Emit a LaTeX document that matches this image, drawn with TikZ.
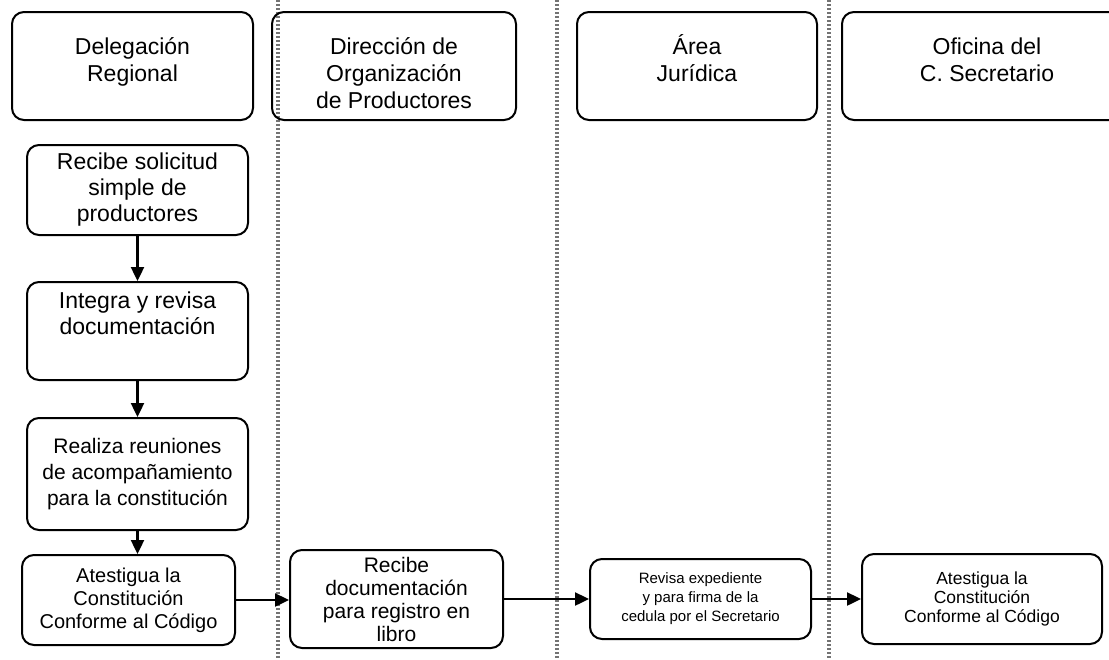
\documentclass[tikz,border=0pt]{standalone}
\usepackage{fontspec}
\setmainfont{Liberation Sans}
\usetikzlibrary{arrows.meta}
\begin{document}
\begin{tikzpicture}[x=1pt,y=-1pt,
        head/.style={draw,line width=2pt,rounded corners=12pt,align=center,
            minimum height=108pt,inner sep=0pt,font=\fontsize{23}{27}\selectfont},
        proc/.style={draw,line width=2pt,rounded corners=12pt,align=center,inner sep=0pt},
        flow/.style={line width=2.4pt,-{Triangle[length=14pt,width=13pt]}},
        lane/.style={line width=3.5pt,black!55,dash pattern=on 2pt off 2pt}]
        \clip (0,0) rectangle (1109,659);
        \fill[white] (0,0) rectangle (1109,659);

        % separadores
        \foreach \x in {278,557,829}
            \draw[lane] (\x,0) -- (\x,659);

        % encabezados
        \node[head,minimum width=241pt] (h1) at (132.5,66) {\rule{0pt}{31pt}Delegación\\Regional\\ \mbox{}};
        \node[head,minimum width=244pt] (h2) at (394,66) {\rule{0pt}{31pt}Dirección de\\Organización\\de Productores};
        \node[head,minimum width=240pt] (h3) at (697,66) {\rule{0pt}{31pt}Área\\Jurídica\\ \mbox{}};
        \node[head,minimum width=290pt] (h4) at (987,66) {\rule{0pt}{31pt}Oficina del\\C. Secretario\\ \mbox{}};

        % delegacion
        \node[proc,minimum width=221pt,minimum height=90pt,font=\fontsize{23}{26}\selectfont] (rec) at (137.5,190) {Recibe solicitud\\simple de\\productores};
        \node[proc,minimum width=221pt,minimum height=98pt,font=\fontsize{23}{26}\selectfont] (integ) at (137.5,331) {Integra y revisa\\documentación\\[10pt] \mbox{}};
        \node[proc,minimum width=221pt,minimum height=112pt,font=\fontsize{21}{26}\selectfont] (reun) at (137.5,474) {Realiza reuniones\\de acompañamiento\\para la constitución};
        \node[proc,minimum width=213pt,minimum height=90pt,font=\fontsize{20}{23}\selectfont] (atest) at (128.5,600) {Atestigua la\\Constitución\\Conforme al Código};

        % fila inferior
        \node[proc,minimum width=213pt,minimum height=98pt,font=\fontsize{21}{23}\selectfont] (recdoc) at (396.5,599) {Recibe\\documentación\\para registro en\\libro};
        \node[proc,minimum width=221pt,minimum height=80pt,font=\fontsize{15}{19}\selectfont] (revisa) at (700.5,599) {Revisa expediente\\y para firma de la\\cedula por el Secretario};
        \node[proc,minimum width=240pt,minimum height=90pt,font=\fontsize{17.5}{19}\selectfont] (atestsec) at (982,599) {Atestigua la\\Constitución\\Conforme al Código};

        \draw[flow] (rec) -- (integ);
        \draw[flow] (integ) -- (reun);
        \draw[flow] (reun.south) -- (reun.south |- atest.north);
        \draw[flow] (atest.east) -- (atest.east -| recdoc.west);
        \draw[flow] (recdoc) -- (revisa);
        \draw[flow] (revisa) -- (atestsec);

    \end{tikzpicture}
\end{document}
